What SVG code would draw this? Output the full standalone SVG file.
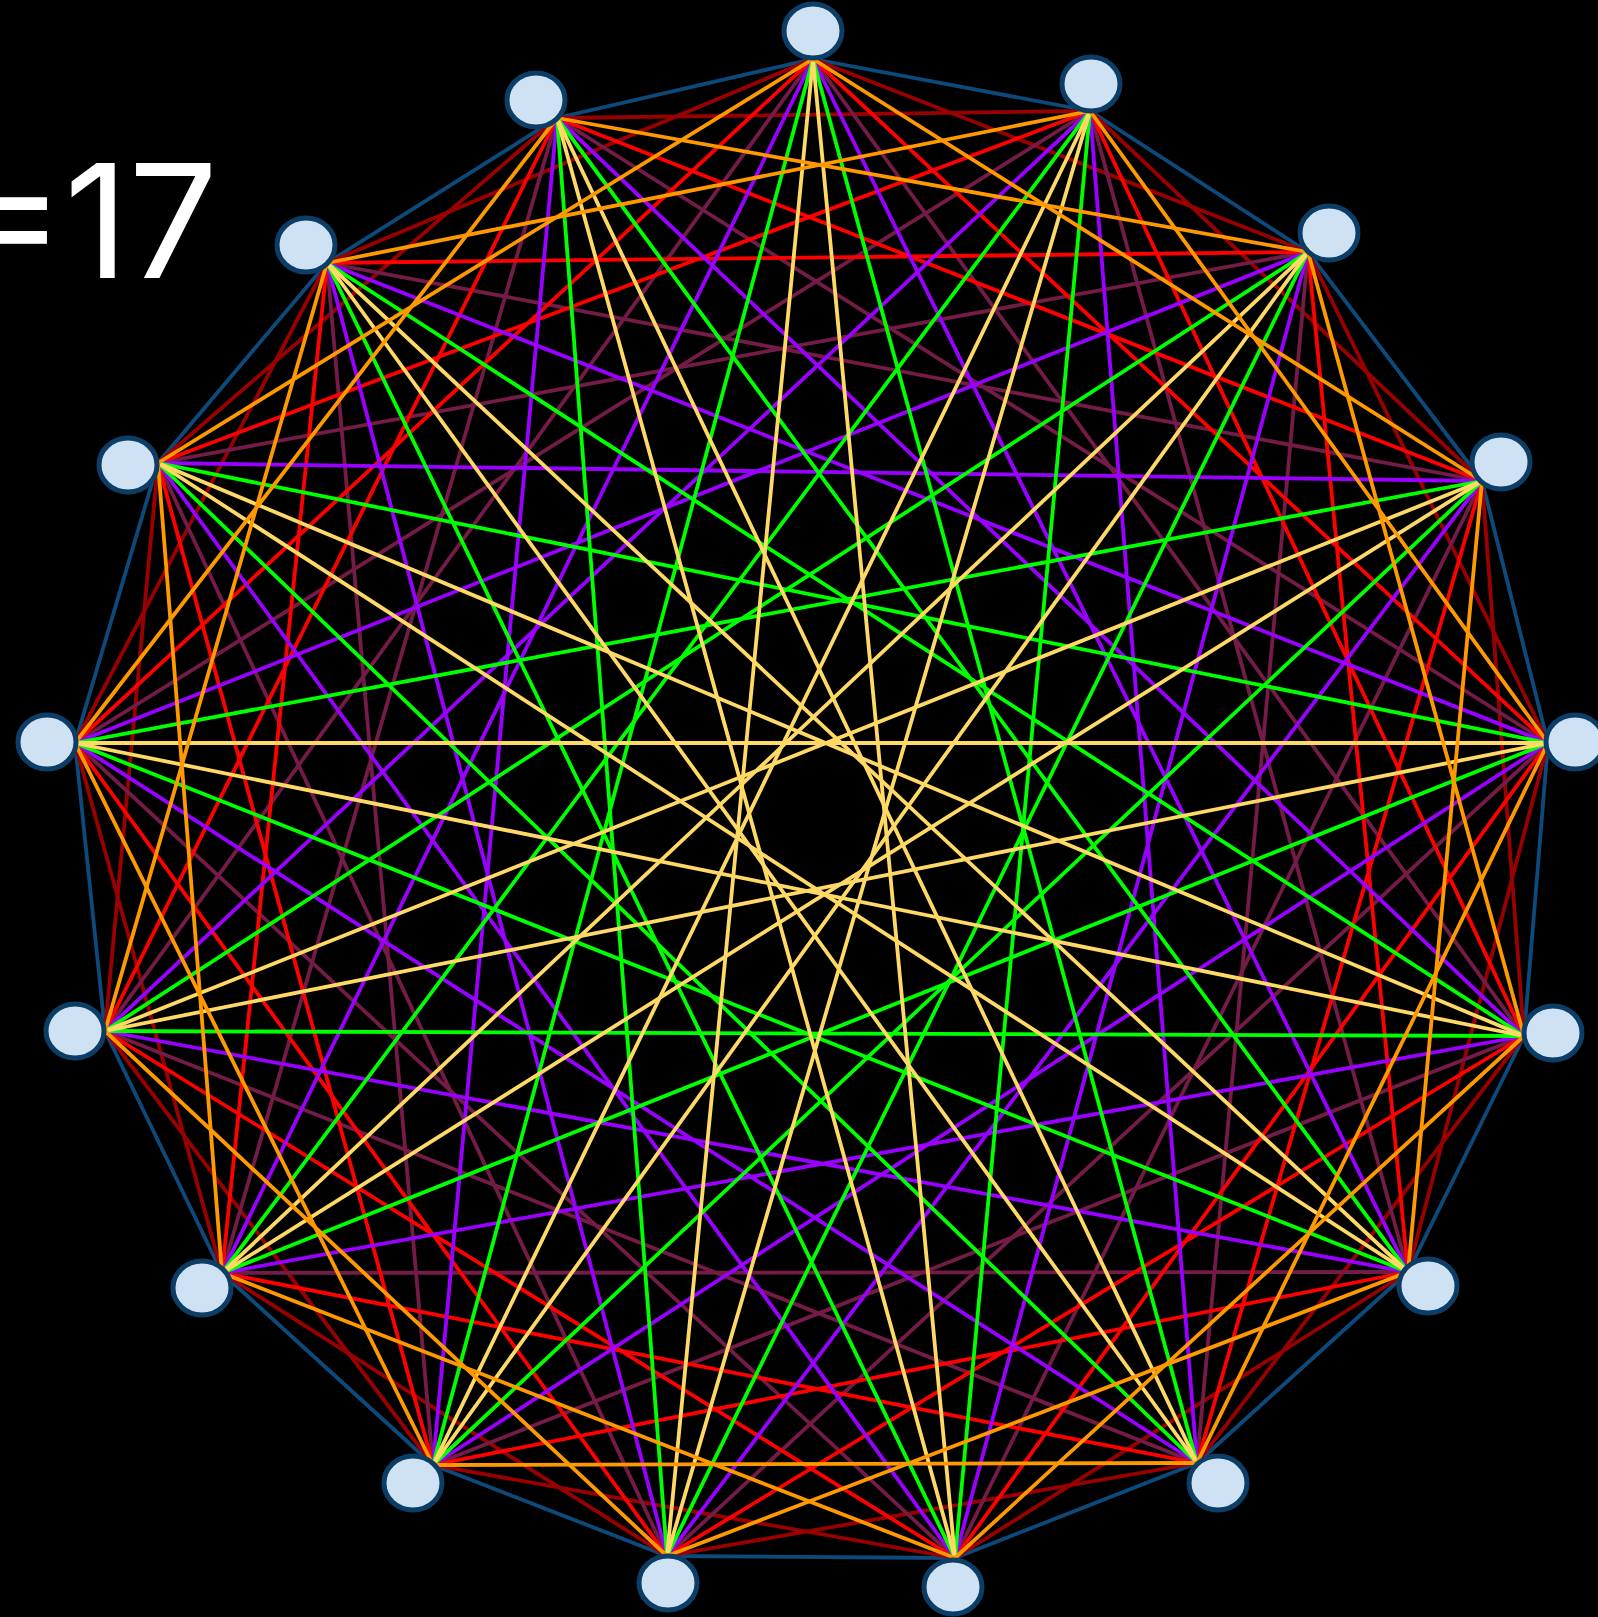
<svg xmlns="http://www.w3.org/2000/svg" width="1598" height="1617" viewBox="0 0 1598 1617">
<style>
.bg{fill:#000}
#connectors line{stroke-width:3.8;stroke-linecap:round;fill:none}
.d1 line{stroke:#0d4a7c}
.d2 line{stroke:#990000}
.d3 line{stroke:#ff9900}
.d4 line{stroke:#ff0000}
.d5 line{stroke:#741b47}
.d6 line{stroke:#9900ff}
.d7 line{stroke:#00ff00}
.d8 line{stroke:#ffd966}
.node ellipse{fill:#cfe2f3;stroke:#0b3d66;stroke-width:5}
.title{font-family:Inter,"Liberation Sans",sans-serif;font-size:158px;fill:#fff;font-weight:400}
</style>
<rect class="bg" x="0" y="0" width="1598" height="1617"/>
<text class="title" x="218" y="278" text-anchor="end">=17</text>
<g id="connectors">
<g class="d1">
<line x1="813" y1="59" x2="1090" y2="111"/>
<line x1="1090" y1="111" x2="1308" y2="252"/>
<line x1="1308" y1="252" x2="1482" y2="481"/>
<line x1="1482" y1="481" x2="1548" y2="743"/>
<line x1="1548" y1="743" x2="1524" y2="1036"/>
<line x1="1524" y1="1036" x2="1408" y2="1272"/>
<line x1="1408" y1="1272" x2="1197" y2="1463"/>
<line x1="1197" y1="1463" x2="955" y2="1558"/>
<line x1="955" y1="1558" x2="667" y2="1556"/>
<line x1="667" y1="1556" x2="433" y2="1465"/>
<line x1="433" y1="1465" x2="222" y2="1273"/>
<line x1="222" y1="1273" x2="105" y2="1031"/>
<line x1="105" y1="1031" x2="75" y2="743"/>
<line x1="75" y1="743" x2="158" y2="463"/>
<line x1="158" y1="463" x2="327" y2="263"/>
<line x1="327" y1="263" x2="557" y2="118"/>
<line x1="557" y1="118" x2="813" y2="59"/>
</g>
<g class="d2">
<line x1="813" y1="59" x2="1308" y2="252"/>
<line x1="1090" y1="111" x2="1482" y2="481"/>
<line x1="1308" y1="252" x2="1548" y2="743"/>
<line x1="1482" y1="481" x2="1524" y2="1036"/>
<line x1="1548" y1="743" x2="1408" y2="1272"/>
<line x1="1524" y1="1036" x2="1197" y2="1463"/>
<line x1="1408" y1="1272" x2="955" y2="1558"/>
<line x1="1197" y1="1463" x2="667" y2="1556"/>
<line x1="955" y1="1558" x2="433" y2="1465"/>
<line x1="667" y1="1556" x2="222" y2="1273"/>
<line x1="433" y1="1465" x2="105" y2="1031"/>
<line x1="222" y1="1273" x2="75" y2="743"/>
<line x1="105" y1="1031" x2="158" y2="463"/>
<line x1="75" y1="743" x2="327" y2="263"/>
<line x1="158" y1="463" x2="557" y2="118"/>
<line x1="327" y1="263" x2="813" y2="59"/>
<line x1="557" y1="118" x2="1090" y2="111"/>
</g>
<g class="d5">
<line x1="813" y1="59" x2="1524" y2="1036"/>
<line x1="1090" y1="111" x2="1408" y2="1272"/>
<line x1="1308" y1="252" x2="1197" y2="1463"/>
<line x1="1482" y1="481" x2="955" y2="1558"/>
<line x1="1548" y1="743" x2="667" y2="1556"/>
<line x1="1524" y1="1036" x2="433" y2="1465"/>
<line x1="1408" y1="1272" x2="222" y2="1273"/>
<line x1="1197" y1="1463" x2="105" y2="1031"/>
<line x1="955" y1="1558" x2="75" y2="743"/>
<line x1="667" y1="1556" x2="158" y2="463"/>
<line x1="433" y1="1465" x2="327" y2="263"/>
<line x1="222" y1="1273" x2="557" y2="118"/>
<line x1="105" y1="1031" x2="813" y2="59"/>
<line x1="75" y1="743" x2="1090" y2="111"/>
<line x1="158" y1="463" x2="1308" y2="252"/>
<line x1="327" y1="263" x2="1482" y2="481"/>
<line x1="557" y1="118" x2="1548" y2="743"/>
</g>
<g class="d4">
<line x1="813" y1="59" x2="1548" y2="743"/>
<line x1="1090" y1="111" x2="1524" y2="1036"/>
<line x1="1308" y1="252" x2="1408" y2="1272"/>
<line x1="1482" y1="481" x2="1197" y2="1463"/>
<line x1="1548" y1="743" x2="955" y2="1558"/>
<line x1="1524" y1="1036" x2="667" y2="1556"/>
<line x1="1408" y1="1272" x2="433" y2="1465"/>
<line x1="1197" y1="1463" x2="222" y2="1273"/>
<line x1="955" y1="1558" x2="105" y2="1031"/>
<line x1="667" y1="1556" x2="75" y2="743"/>
<line x1="433" y1="1465" x2="158" y2="463"/>
<line x1="222" y1="1273" x2="327" y2="263"/>
<line x1="105" y1="1031" x2="557" y2="118"/>
<line x1="75" y1="743" x2="813" y2="59"/>
<line x1="158" y1="463" x2="1090" y2="111"/>
<line x1="327" y1="263" x2="1308" y2="252"/>
<line x1="557" y1="118" x2="1482" y2="481"/>
</g>
<g class="d6">
<line x1="813" y1="59" x2="1408" y2="1272"/>
<line x1="1090" y1="111" x2="1197" y2="1463"/>
<line x1="1308" y1="252" x2="955" y2="1558"/>
<line x1="1482" y1="481" x2="667" y2="1556"/>
<line x1="1548" y1="743" x2="433" y2="1465"/>
<line x1="1524" y1="1036" x2="222" y2="1273"/>
<line x1="1408" y1="1272" x2="105" y2="1031"/>
<line x1="1197" y1="1463" x2="75" y2="743"/>
<line x1="955" y1="1558" x2="158" y2="463"/>
<line x1="667" y1="1556" x2="327" y2="263"/>
<line x1="433" y1="1465" x2="557" y2="118"/>
<line x1="222" y1="1273" x2="813" y2="59"/>
<line x1="105" y1="1031" x2="1090" y2="111"/>
<line x1="75" y1="743" x2="1308" y2="252"/>
<line x1="158" y1="463" x2="1482" y2="481"/>
<line x1="327" y1="263" x2="1548" y2="743"/>
<line x1="557" y1="118" x2="1524" y2="1036"/>
</g>
<g class="d7">
<line x1="813" y1="59" x2="1197" y2="1463"/>
<line x1="1090" y1="111" x2="955" y2="1558"/>
<line x1="1308" y1="252" x2="667" y2="1556"/>
<line x1="1482" y1="481" x2="433" y2="1465"/>
<line x1="1548" y1="743" x2="222" y2="1273"/>
<line x1="1524" y1="1036" x2="105" y2="1031"/>
<line x1="1408" y1="1272" x2="75" y2="743"/>
<line x1="1197" y1="1463" x2="158" y2="463"/>
<line x1="955" y1="1558" x2="327" y2="263"/>
<line x1="667" y1="1556" x2="557" y2="118"/>
<line x1="433" y1="1465" x2="813" y2="59"/>
<line x1="222" y1="1273" x2="1090" y2="111"/>
<line x1="105" y1="1031" x2="1308" y2="252"/>
<line x1="75" y1="743" x2="1482" y2="481"/>
<line x1="158" y1="463" x2="1548" y2="743"/>
<line x1="327" y1="263" x2="1524" y2="1036"/>
<line x1="557" y1="118" x2="1408" y2="1272"/>
</g>
<g class="d8">
<line x1="813" y1="59" x2="955" y2="1558"/>
<line x1="1090" y1="111" x2="667" y2="1556"/>
<line x1="1308" y1="252" x2="433" y2="1465"/>
<line x1="1482" y1="481" x2="222" y2="1273"/>
<line x1="1548" y1="743" x2="105" y2="1031"/>
<line x1="1524" y1="1036" x2="75" y2="743"/>
<line x1="1408" y1="1272" x2="158" y2="463"/>
<line x1="1197" y1="1463" x2="327" y2="263"/>
<line x1="955" y1="1558" x2="557" y2="118"/>
<line x1="667" y1="1556" x2="813" y2="59"/>
<line x1="433" y1="1465" x2="1090" y2="111"/>
<line x1="222" y1="1273" x2="1308" y2="252"/>
<line x1="105" y1="1031" x2="1482" y2="481"/>
<line x1="75" y1="743" x2="1548" y2="743"/>
<line x1="158" y1="463" x2="1524" y2="1036"/>
<line x1="327" y1="263" x2="1408" y2="1272"/>
<line x1="557" y1="118" x2="1197" y2="1463"/>
</g>
<g class="d3">
<line x1="813" y1="59" x2="1482" y2="481"/>
<line x1="1090" y1="111" x2="1548" y2="743"/>
<line x1="1308" y1="252" x2="1524" y2="1036"/>
<line x1="1482" y1="481" x2="1408" y2="1272"/>
<line x1="1548" y1="743" x2="1197" y2="1463"/>
<line x1="1524" y1="1036" x2="955" y2="1558"/>
<line x1="1408" y1="1272" x2="667" y2="1556"/>
<line x1="1197" y1="1463" x2="433" y2="1465"/>
<line x1="955" y1="1558" x2="222" y2="1273"/>
<line x1="667" y1="1556" x2="105" y2="1031"/>
<line x1="433" y1="1465" x2="75" y2="743"/>
<line x1="222" y1="1273" x2="158" y2="463"/>
<line x1="105" y1="1031" x2="327" y2="263"/>
<line x1="75" y1="743" x2="557" y2="118"/>
<line x1="158" y1="463" x2="813" y2="59"/>
<line x1="327" y1="263" x2="1090" y2="111"/>
<line x1="557" y1="118" x2="1308" y2="252"/>
</g>
</g>
<g id="node0" class="node"><ellipse cx="813" cy="31" rx="29" ry="27"/></g>
<g id="node1" class="node"><ellipse cx="1091" cy="84" rx="29" ry="27"/></g>
<g id="node2" class="node"><ellipse cx="1329" cy="233" rx="29" ry="27"/></g>
<g id="node3" class="node"><ellipse cx="1501" cy="462" rx="29" ry="27"/></g>
<g id="node4" class="node"><ellipse cx="1575" cy="742" rx="29" ry="27"/></g>
<g id="node5" class="node"><ellipse cx="1553" cy="1033" rx="29" ry="27"/></g>
<g id="node6" class="node"><ellipse cx="1428" cy="1286" rx="29" ry="27"/></g>
<g id="node7" class="node"><ellipse cx="1218" cy="1483" rx="29" ry="27"/></g>
<g id="node8" class="node"><ellipse cx="953" cy="1587" rx="29" ry="27"/></g>
<g id="node9" class="node"><ellipse cx="668" cy="1583" rx="29" ry="27"/></g>
<g id="node10" class="node"><ellipse cx="413" cy="1483" rx="29" ry="27"/></g>
<g id="node11" class="node"><ellipse cx="202" cy="1288" rx="29" ry="27"/></g>
<g id="node12" class="node"><ellipse cx="75" cy="1031" rx="29" ry="27"/></g>
<g id="node13" class="node"><ellipse cx="47" cy="742" rx="29" ry="27"/></g>
<g id="node14" class="node"><ellipse cx="128" cy="465" rx="29" ry="27"/></g>
<g id="node15" class="node"><ellipse cx="306" cy="245" rx="29" ry="27"/></g>
<g id="node16" class="node"><ellipse cx="536" cy="100" rx="29" ry="27"/></g>
</svg>
